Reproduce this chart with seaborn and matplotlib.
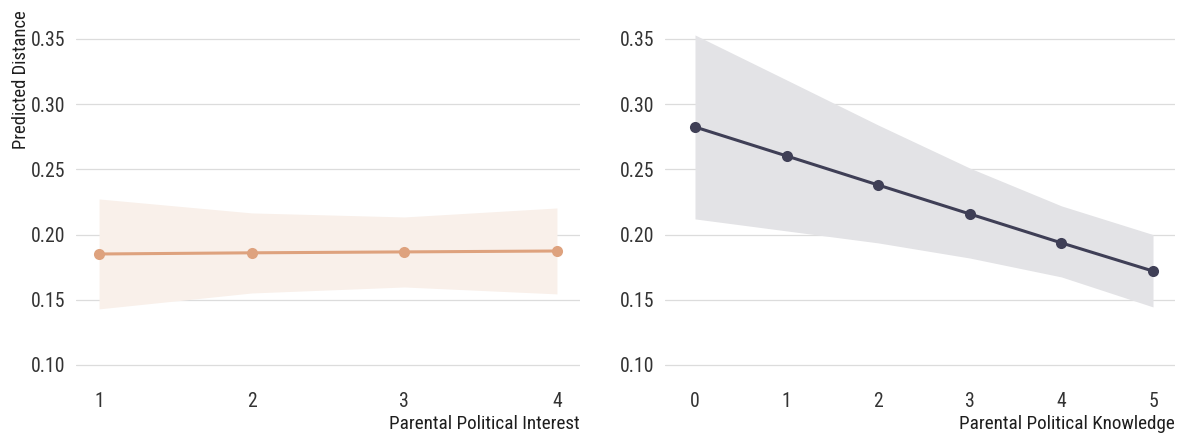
import matplotlib
matplotlib.use("Agg")
import matplotlib.pyplot as plt
import seaborn as sns
import pandas as pd
from matplotlib import font_manager

# Predicted distance by parental political interest
interest_levels = [1, 2, 3, 4]
interest_pred = [0.1851, 0.1860, 0.1867, 0.1874]
interest_lo = [0.1430, 0.1552, 0.1598, 0.1545]
interest_hi = [0.2273, 0.2166, 0.2135, 0.2204]

# Predicted distance by parental political knowledge
knowledge_levels = [0, 1, 2, 3, 4, 5]
knowledge_pred = [0.2825, 0.2603, 0.2380, 0.2158, 0.1936, 0.1720]
knowledge_lo = [0.2120, 0.2028, 0.1936, 0.1820, 0.1675, 0.1445]
knowledge_hi = [0.3531, 0.3186, 0.2840, 0.2510, 0.2220, 0.2000]

y_ticks = [0.10, 0.15, 0.20, 0.25, 0.30, 0.35]

sns.set_theme(style="white")
names = {f.name for f in font_manager.fontManager.ttflist}
fam = [n for n in ["Roboto Condensed", "Roboto", "DejaVu Sans"] if n in names]
plt.rcParams["font.family"] = fam

fig = plt.figure(figsize=(11.83, 4.36), dpi=100)
ax1 = fig.add_axes([76 / 1183, 0.148, (580 - 76) / 1183, 0.829])
ax2 = fig.add_axes([665 / 1183, 0.148, (1175 - 665) / 1183, 0.829])

df1 = pd.DataFrame({"x": interest_levels, "y": interest_pred})
df2 = pd.DataFrame({"x": knowledge_levels, "y": knowledge_pred})

orange = "#dea27e"
dark = "#3f3f56"

ax1.fill_between(interest_levels, interest_lo, interest_hi, color="#f9f0ea", lw=0, zorder=1)
sns.lineplot(data=df1, x="x", y="y", ax=ax1, color=orange, lw=2.2, marker="o",
             markersize=8, markeredgewidth=0, zorder=3)

ax2.fill_between(knowledge_levels, knowledge_lo, knowledge_hi, color="#e3e3e6", lw=0, zorder=1)
sns.lineplot(data=df2, x="x", y="y", ax=ax2, color=dark, lw=2.2, marker="o",
             markersize=8, markeredgewidth=0, zorder=3)

for ax, xt, xl, lab in [
    (ax1, interest_levels, (0.849, 4.151), "Parental Political Interest"),
    (ax2, knowledge_levels, (-0.3275, 5.24), "Parental Political Knowledge"),
]:
    ax.set_ylim(0.095, 0.3722)
    ax.set_xlim(*xl)
    ax.set_yticks(y_ticks)
    ax.set_yticklabels([f"{v:.2f}" for v in y_ticks])
    ax.set_xticks(xt)
    ax.set_xticklabels([str(v) for v in xt])
    ax.grid(axis="y", color="#dcdcdc", lw=0.9, zorder=0)
    ax.grid(axis="x", visible=False)
    ax.set_axisbelow(True)
    for s in ax.spines.values():
        s.set_visible(False)
    ax.tick_params(axis="both", length=0, labelsize=14.2, colors="#333333")
    ax.tick_params(axis="y", pad=8)
    ax.tick_params(axis="x", pad=15)
    ax.set_xlabel(lab, loc="right", fontsize=13.8, color="#1e1e1e", labelpad=3)
    ax.set_ylabel("")

ax1.set_ylabel("Predicted Distance", loc="top", fontsize=13.4, color="#1e1e1e", labelpad=0.5)

fig.savefig("out.png", dpi=100, facecolor="white")
